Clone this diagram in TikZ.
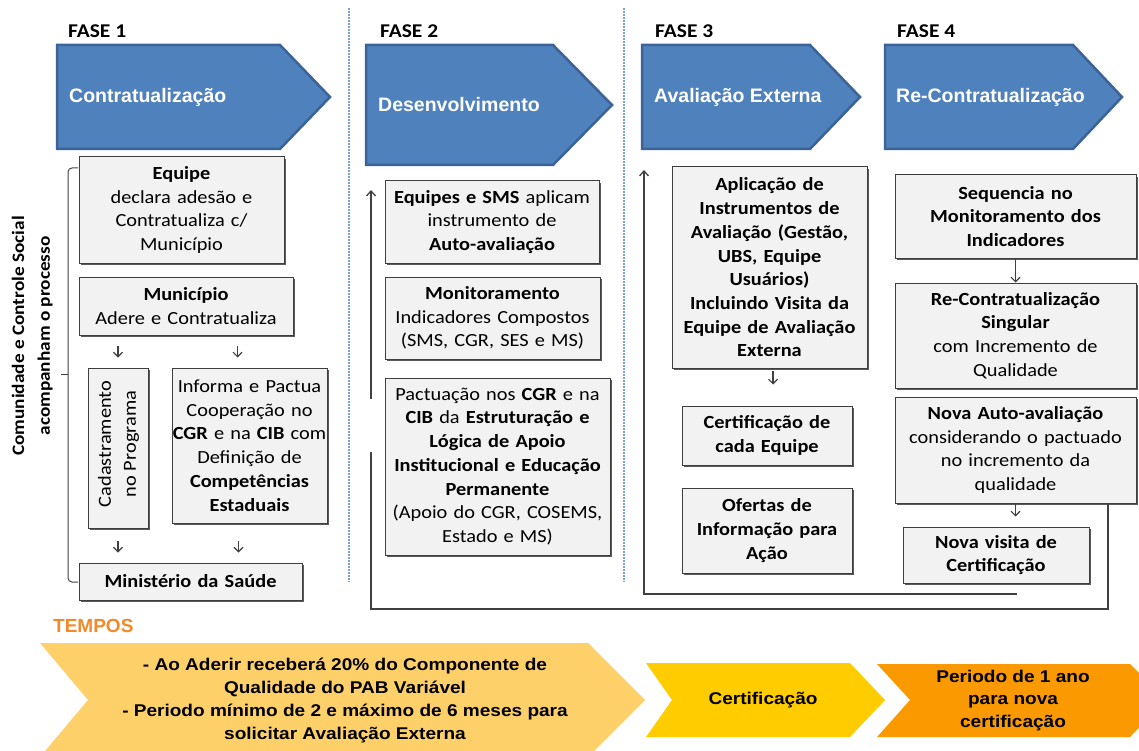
\documentclass[tikz,border=0pt]{standalone}
\usepackage{fontspec}
\setmainfont{Carlito}
\newfontfamily\calf[FakeStretch=1.1]{Carlito}
\newfontfamily\arif{Liberation Sans}
\newfontfamily\aristr[FakeStretch=1.12]{Liberation Sans}
\usetikzlibrary{arrows.meta,shadows,calc}
\definecolor{bluefill}{HTML}{4F81BD}
\definecolor{blueline}{HTML}{3B6397}
\definecolor{boxfill}{HTML}{F2F2F2}
\definecolor{boxline}{HTML}{3F3F3F}
\definecolor{sepblue}{HTML}{7BA0D4}
\definecolor{yelbig}{HTML}{FDD06A}
\definecolor{yelcert}{HTML}{FFCC00}
\definecolor{orng}{HTML}{FA9A00}
\definecolor{tempos}{HTML}{F28A2C}
\newcommand\boxfont{\calf\fontsize{18.5}{23.7}\selectfont}
\begin{document}
\begin{tikzpicture}[x=1pt,y=-1pt,
  gbox/.style={draw=boxline, line width=1pt, fill=boxfill,
    drop shadow={shadow xshift=1.8pt, shadow yshift=-1.8pt, fill=black!65, opacity=1},
    inner sep=0pt, align=center, font=\boxfont},
  phase/.style={draw=blueline, line width=2.5pt, fill=bluefill, line join=miter},
  phasetxt/.style={anchor=west, text=white, font=\arif\bfseries\fontsize{19.5}{23}\selectfont, inner sep=0pt},
  fase/.style={anchor=west, font=\calf\bfseries\fontsize{19.5}{23}\selectfont, inner sep=0pt},
  sarr/.style={draw=black!75, line width=1.1pt, -{Straight Barb[length=4.5pt,width=9pt]}},
  loopl/.style={draw=black!75, line width=1.3pt},
  brk/.style={draw=black!75, line width=1pt},
  sep/.style={draw=sepblue, line width=1.6pt, dash pattern=on 2pt off 1pt},
  btxt/.style={align=center, font=\aristr\bfseries\fontsize{17}{23.3}\selectfont, inner sep=0pt}
]
\useasboundingbox (0,0) rectangle (1139,751);
\clip (0,0) rectangle (1139,751);

% separators
\draw[sep] (349,8) -- (349,582);
\draw[sep] (624,8) -- (624,582);

% phase headers
\node[fase] (f1) at (68,31) {FASE 1};
\node[fase] (f2) at (380,31) {FASE 2};
\node[fase] (f3) at (655,31) {FASE 3};
\node[fase] (f4) at (897,31) {FASE 4};

\draw[phase] (57,45) -- (280,45) -- (330,97) -- (280,149) -- (57,149) -- cycle;
\draw[phase] (366,45) -- (553,45) -- (612,105) -- (553,165) -- (366,165) -- cycle;
\draw[phase] (642,45) -- (810,45) -- (860,97) -- (810,149) -- (642,149) -- cycle;
\draw[phase] (885,45) -- (1073,45) -- (1122,97) -- (1073,149) -- (885,149) -- cycle;
\node[phasetxt] (h1) at (69,97) {Contratualização};
\node[phasetxt] (h2) at (378,105) {Desenvolvimento};
\node[phasetxt] (h3) at (654,97) {Avaliação Externa};
\node[phasetxt] (h4) at (896,97) {Re-Contratualização};

% side text and bracket
\node[rotate=90, inner sep=0pt, font=\calf\bfseries\fontsize{17.5}{20}\selectfont] (comm1) at (18,336) {Comunidade e Controle Social};
\node[rotate=90, inner sep=0pt, font=\calf\bfseries\fontsize{17.5}{20}\selectfont] (comm2) at (45,336) {acompanham o processo};
\coordinate (brt) at (78,168);
\coordinate (brb) at (78,582);
\coordinate (brm) at (61,374);
\draw[brk, rounded corners=4pt] (brt) -- (68,168) -- (68,582) -- (brb);
\draw[brk] (68,374) -- (brm);

% phase 1 boxes
\node[gbox, minimum width=205pt, minimum height=106pt, text width=197pt] (eq) at (181.5,210)
  {\textbf{Equipe}\\declara adesão e\\Contratualiza c/\\Município};
\node[gbox, minimum width=214pt, minimum height=58pt, text width=206pt] (mun) at (186,306)
  {\textbf{Município}\\Adere e Contratualiza};
\node[gbox, minimum width=60pt, minimum height=160pt] (cad) at (118,448) {};
\node[rotate=90, align=center, inner sep=0pt, font=\calf\fontsize{18.5}{25}\selectfont] (cadt) at (118.5,444) {Cadastramento\\no Programa};
\node[gbox, minimum width=155pt, minimum height=155pt, text width=165pt, inner xsep=-5pt] (inf) at (249.5,445.5)
  {Informa e Pactua\\Cooperação no\\\textbf{CGR} e na \textbf{CIB} com\\Definição de\\\textbf{Competências}\\\textbf{Estaduais}};
\node[gbox, minimum width=223pt, minimum height=37pt, text width=215pt] (min) at (190.5,581.5)
  {\textbf{Ministério da Saúde}};

\coordinate (a2) at ($(inf.north)+(-12,0)$);
\coordinate (a4) at ($(inf.south)+(-11,0)$);
\draw[sarr, shorten <=10pt, shorten >=10pt] (cad.north |- mun.south) -- (cad.north);
\draw[sarr, shorten <=10pt, shorten >=10pt] (a2 |- mun.south) -- (a2);
\draw[sarr, shorten <=12pt, shorten >=10pt] (cad.south) -- (cad.south |- min.north);
\draw[sarr, shorten <=17pt, shorten >=10pt] (a4) -- (a4 |- min.north);

% phase 2 boxes
\node[gbox, minimum width=214pt, minimum height=82pt, text width=206pt] (p2a) at (492,222)
  {\textbf{Equipes e SMS} aplicam\\instrumento de\\\textbf{Auto-avaliação}};
\node[gbox, minimum width=215pt, minimum height=82pt, text width=207pt] (p2b) at (492.5,318)
  {\textbf{Monitoramento}\\Indicadores Compostos\\(SMS, CGR, SES e MS)};
\node[gbox, minimum width=225pt, minimum height=177pt, text width=219pt] (p2c) at (497.5,466.5)
  {Pactuação nos \textbf{CGR} e na\\\textbf{CIB} da \textbf{Estruturação e}\\\textbf{Lógica de Apoio}\\\textbf{Institucional e Educação}\\\textbf{Permanente}\\(Apoio do CGR, COSEMS,\\Estado e MS)};

% phase 3 boxes
\node[gbox, minimum width=195pt, minimum height=201pt, text width=189pt, font=\boxfont\bfseries] (p3a) at (769.5,267.5)
  {Aplicação de\\Instrumentos de\\Avaliação (Gestão,\\UBS, Equipe\\Usuários)\\Incluindo Visita da\\Equipe de Avaliação\\Externa};
\node[gbox, minimum width=170pt, minimum height=59pt, text width=164pt, font=\boxfont\bfseries] (p3b) at (767,435.5)
  {Certificação de\\cada Equipe};
\node[gbox, minimum width=170pt, minimum height=85pt, text width=164pt, font=\boxfont\bfseries] (p3c) at (767,530.5)
  {Ofertas de\\Informação para\\Ação};
\coordinate (a5) at (773,368);
\draw[sarr, shorten <=3pt, shorten >=21pt] (a5) -- (a5 |- p3b.north);

% phase 4 boxes
\node[gbox, minimum width=241pt, minimum height=83pt, text width=235pt, font=\boxfont\bfseries] (p4a) at (1015.5,216.5)
  {Sequencia no\\Monitoramento dos\\Indicadores};
\node[gbox, minimum width=241pt, minimum height=105pt, text width=235pt] (p4b) at (1015.5,335.5)
  {\textbf{Re-Contratualização}\\\textbf{Singular}\\com Incremento de\\Qualidade};
\node[gbox, minimum width=241pt, minimum height=106pt, text width=235pt] (p4c) at (1015.5,450)
  {\textbf{Nova Auto-avaliação}\\considerando o pactuado\\no incremento da\\qualidade};
\node[gbox, minimum width=186pt, minimum height=56pt, text width=180pt, font=\boxfont\bfseries] (p4d) at (996,555)
  {Nova visita de\\Certificação};
\draw[sarr] (p4a.south) -- (p4b.north);
\draw[sarr, shorten >=10pt] (p4c.south) -- (p4c.south |- p4d.north);

% loops
\coordinate (l3s) at (1017,594);
\coordinate (l3c) at (644,594);
\coordinate (l3e) at (644,170);
\draw[loopl, -{Straight Barb[length=5pt,width=9pt]}] (l3s) -- (l3c) -- (l3e);
\coordinate (l2s) at (1108,503);
\coordinate (l2c1) at (1108,609);
\coordinate (l2c2) at (371,609);
\coordinate (l2g1) at (371,452);
\coordinate (l2g2) at (371,399);
\coordinate (l2e) at (371,190);
\draw[loopl] (l2s) -- (l2c1) -- (l2c2) -- (l2g1);
\draw[loopl, -{Straight Barb[length=5pt,width=9pt]}] (l2g2) -- (l2e);

% tempos
\node[anchor=west, text=tempos, inner sep=0pt, font=\arif\bfseries\fontsize{19}{22}\selectfont] (tmp) at (53,626) {TEMPOS};
\fill[yelbig] (40,643) -- (588,643) -- (645,700) -- (588,757) -- (40,757) -- (88,700) -- cycle;
\fill[yelcert] (646,663) -- (850,663) -- (885,700) -- (850,737) -- (646,737) -- (672,700) -- cycle;
\fill[orng] (877,664) -- (1130,664) -- (1166,700) -- (1130,737) -- (877,737) -- (910,700) -- cycle;
\node[btxt] (t1) at (345,700.5) {- Ao Aderir receberá 20\% do Componente de\\Qualidade do PAB Variável\\- Periodo mínimo de 2 e máximo de 6 meses para\\solicitar Avaliação Externa};
\node[btxt] (t2) at (763,700) {Certificação};
\node[btxt, font=\aristr\bfseries\fontsize{17}{22.5}\selectfont] (t3) at (1013,700.5) {Periodo de 1 ano\\para nova\\certificação};
\end{tikzpicture}
\end{document}
